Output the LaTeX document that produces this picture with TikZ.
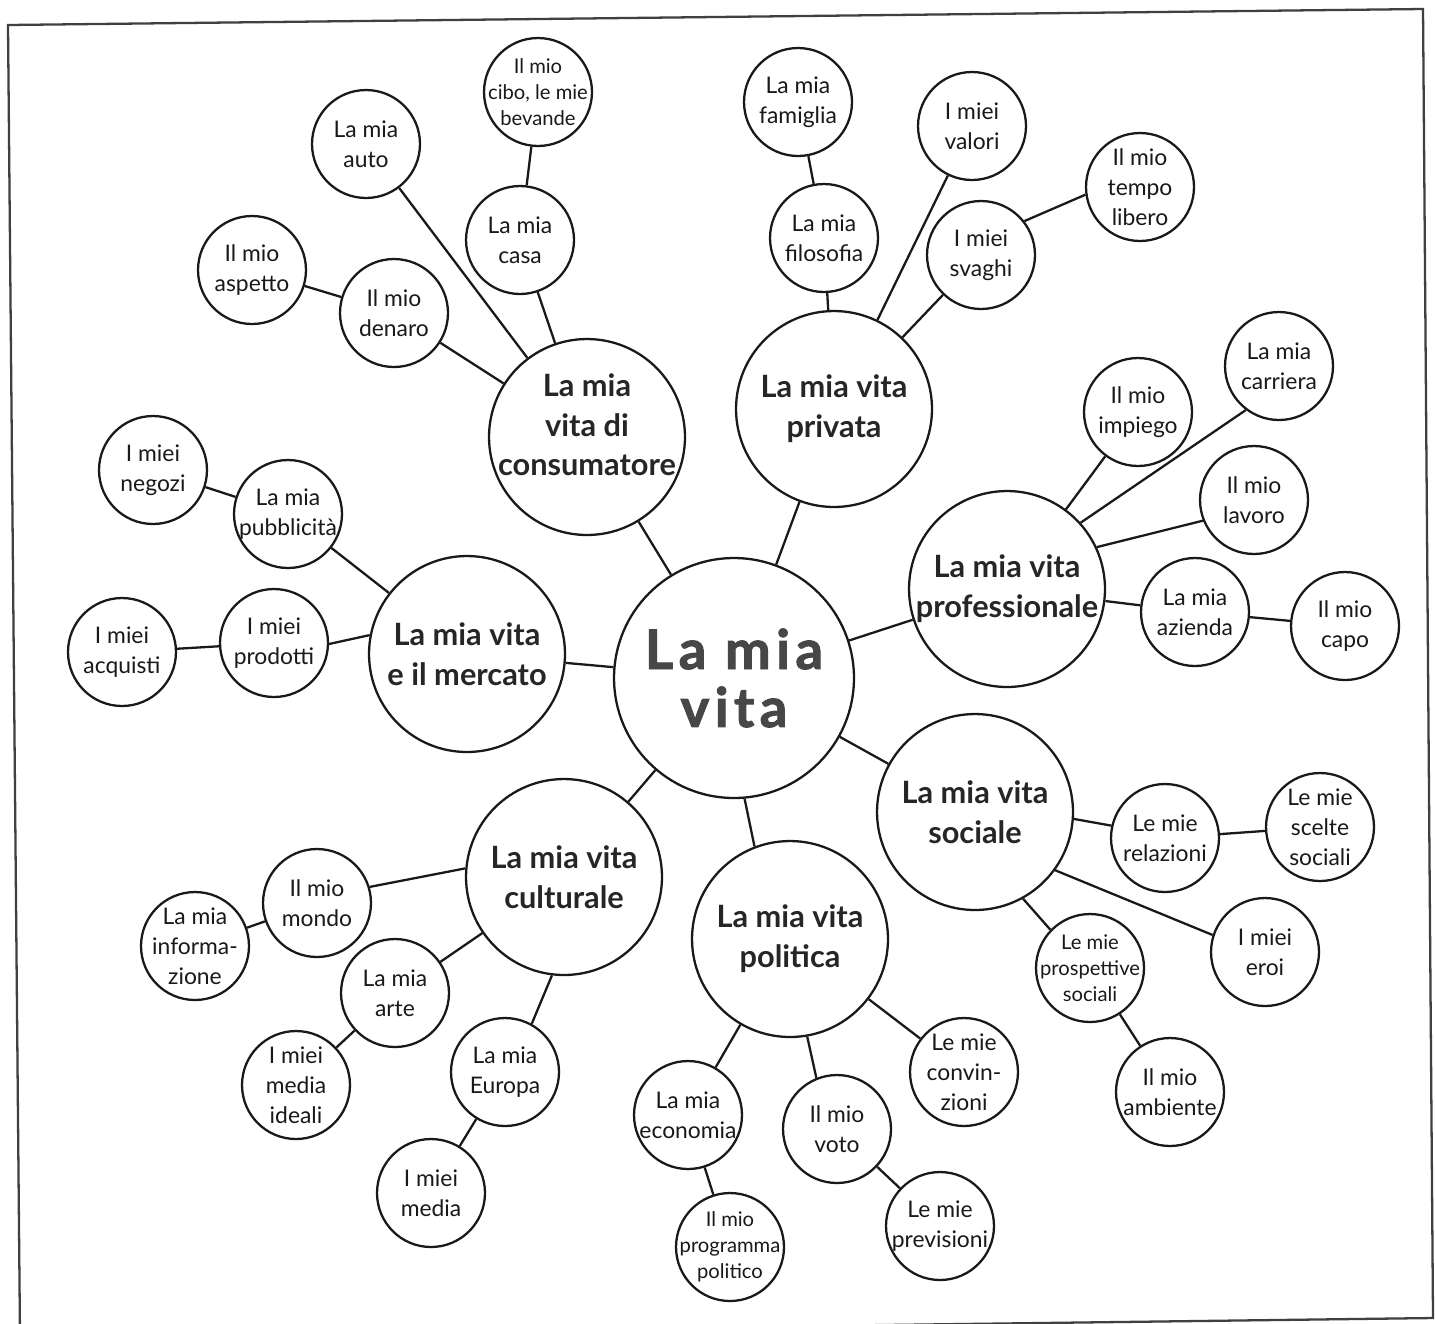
\documentclass[tikz,border=0pt]{standalone}
\usepackage{fontspec}
\setmainfont{Lato}
\newfontfamily\hubfont{Lato}[LetterSpace=10, BoldFeatures={FakeBold=1.8}]
\usepackage{tikz}

\begin{document}
\begin{tikzpicture}[x=0.02cm, y=-0.02cm,
    leaf/.style={circle, draw=black!90, line width=1.3pt, minimum size=2.16cm, inner sep=-12pt, align=center, text=black!90, font=\fontsize{13}{17}\selectfont},
    leafsm/.style={leaf, font=\fontsize{11.5}{14.7}\selectfont},
    branch/.style={circle, draw=black!90, line width=1.3pt, minimum size=3.92cm, inner sep=-12pt, align=center, text=black!85, font=\bfseries\fontsize{17.5}{22.7}\selectfont},
    hub/.style={circle, draw=black!90, line width=1.3pt, minimum size=4.8cm, inner sep=-12pt, align=center, text=black!72, font=\hubfont\bfseries\fontsize{31}{33}\selectfont},
    link/.style={line width=1.3pt, draw=black!90}]
    \clip (0,0) rectangle (1435,1323);
    \fill[white] (0,0) rectangle (1435,1323);
    \draw[line width=1.3pt, black!75] (8,25) -- (1423,9) -- (1433,1318) -- (20,1336) -- cycle;

    % centre and branches
    \node[hub] (vita) at (734,678) {La mia\\vita};
    \node[branch, text depth=14pt] (cons) at (587,437) {La mia\\vita di\\consumatore};
    \node[branch] (priv) at (834,409) {La mia vita\\privata};
    \node[branch] (prof) at (1007,589) {La mia vita\\professionale};
    \node[branch] (merc) at (467,654) {La mia vita\\e il mercato};
    \node[branch] (soc) at (975,812) {La mia vita\\sociale};
    \node[branch] (cult) at (564,877) {La mia vita\\culturale};
    \node[branch] (pol) at (790,939) {La mia vita\\politica};

    % consumatore
    \node[leafsm] (cibo) at (538,92) {Il mio\\cibo, le mie\\bevande};
    \node[leaf] (auto) at (366,144) {La mia\\auto};
    \node[leaf] (casa) at (520,240) {La mia\\casa};
    \node[leaf] (aspetto) at (252,270) {Il mio\\aspetto};
    \node[leaf] (denaro) at (394,313) {Il mio\\denaro};

    % privata
    \node[leaf] (famiglia) at (798,102) {La mia\\famiglia};
    \node[leaf] (valori) at (972,126) {I miei\\valori};
    \node[leaf] (tempo) at (1140,187) {Il mio\\tempo\\libero};
    \node[leaf] (filosofia) at (824,238) {La mia\\filosofia};
    \node[leaf] (svaghi) at (981,255) {I miei\\svaghi};

    % professionale
    \node[leaf] (impiego) at (1138,412) {Il mio\\impiego};
    \node[leaf] (carriera) at (1279,366) {La mia\\carriera};
    \node[leaf] (lavoro) at (1254,500) {Il mio\\lavoro};
    \node[leaf] (azienda) at (1195,612) {La mia\\azienda};
    \node[leaf] (capo) at (1345,626) {Il mio\\capo};

    % mercato
    \node[leaf] (negozi) at (153,470) {I miei\\negozi};
    \node[leaf] (pubbl) at (288,514) {La mia\\pubblicità};
    \node[leaf] (acquisti) at (122,652) {I miei\\acquisti};
    \node[leaf] (prodotti) at (274,643) {I miei\\prodotti};

    % sociale
    \node[leaf] (relaz) at (1165,838) {Le mie\\relazioni};
    \node[leaf] (scelte) at (1320,827) {Le mie\\scelte\\sociali};
    \node[leaf] (eroi) at (1265,952) {I miei\\eroi};
    \node[leafsm] (prosp) at (1090,968) {Le mie\\prospettive\\sociali};
    \node[leaf] (ambiente) at (1170,1092) {Il mio\\ambiente};

    % culturale
    \node[leaf] (mondo) at (317,903) {Il mio\\mondo};
    \node[leaf] (info) at (195,946) {La mia\\informa-\\zione};
    \node[leaf] (arte) at (395,993) {La mia\\arte};
    \node[leaf] (ideali) at (296,1085) {I miei\\media\\ideali};
    \node[leaf] (europa) at (505,1072) {La mia\\Europa};
    \node[leaf] (media) at (431,1193) {I miei\\media};

    % politica
    \node[leaf] (economia) at (688,1115) {La mia\\economia};
    \node[leafsm] (programma) at (730,1247) {Il mio\\programma\\politico};
    \node[leaf] (voto) at (837,1129) {Il mio\\voto};
    \node[leaf] (previsioni) at (940,1226) {Le mie\\previsioni};
    \node[leaf] (convinz) at (964,1072) {Le mie\\convin-\\zioni};

    \foreach \a/\b in {vita/cons, vita/priv, vita/prof, vita/merc, vita/soc, vita/cult, vita.-85/pol.111,
        cons/auto, cons/casa, cons/denaro, casa/cibo, denaro/aspetto,
        priv/filosofia, priv/valori, priv/svaghi, filosofia/famiglia, svaghi.38/tempo.188,
        prof/impiego, prof.42/carriera.233, prof.25/lavoro.202, prof/azienda, azienda/capo,
        merc/pubbl, merc.169/prodotti.-1, pubbl/negozi, prodotti/acquisti,
        soc.-4/relaz.167, relaz/scelte, soc.-36/eroi.162, soc.-61/prosp.136, prosp/ambiente,
        cult.175/mondo.17, mondo/info, cult/arte, arte/ideali, cult.-97/europa.61, europa/media,
        pol/economia, economia/programma, pol.-80/voto.112, voto/previsioni, pol/convinz}
        \draw[link] (\a) -- (\b);
\end{tikzpicture}
\end{document}
